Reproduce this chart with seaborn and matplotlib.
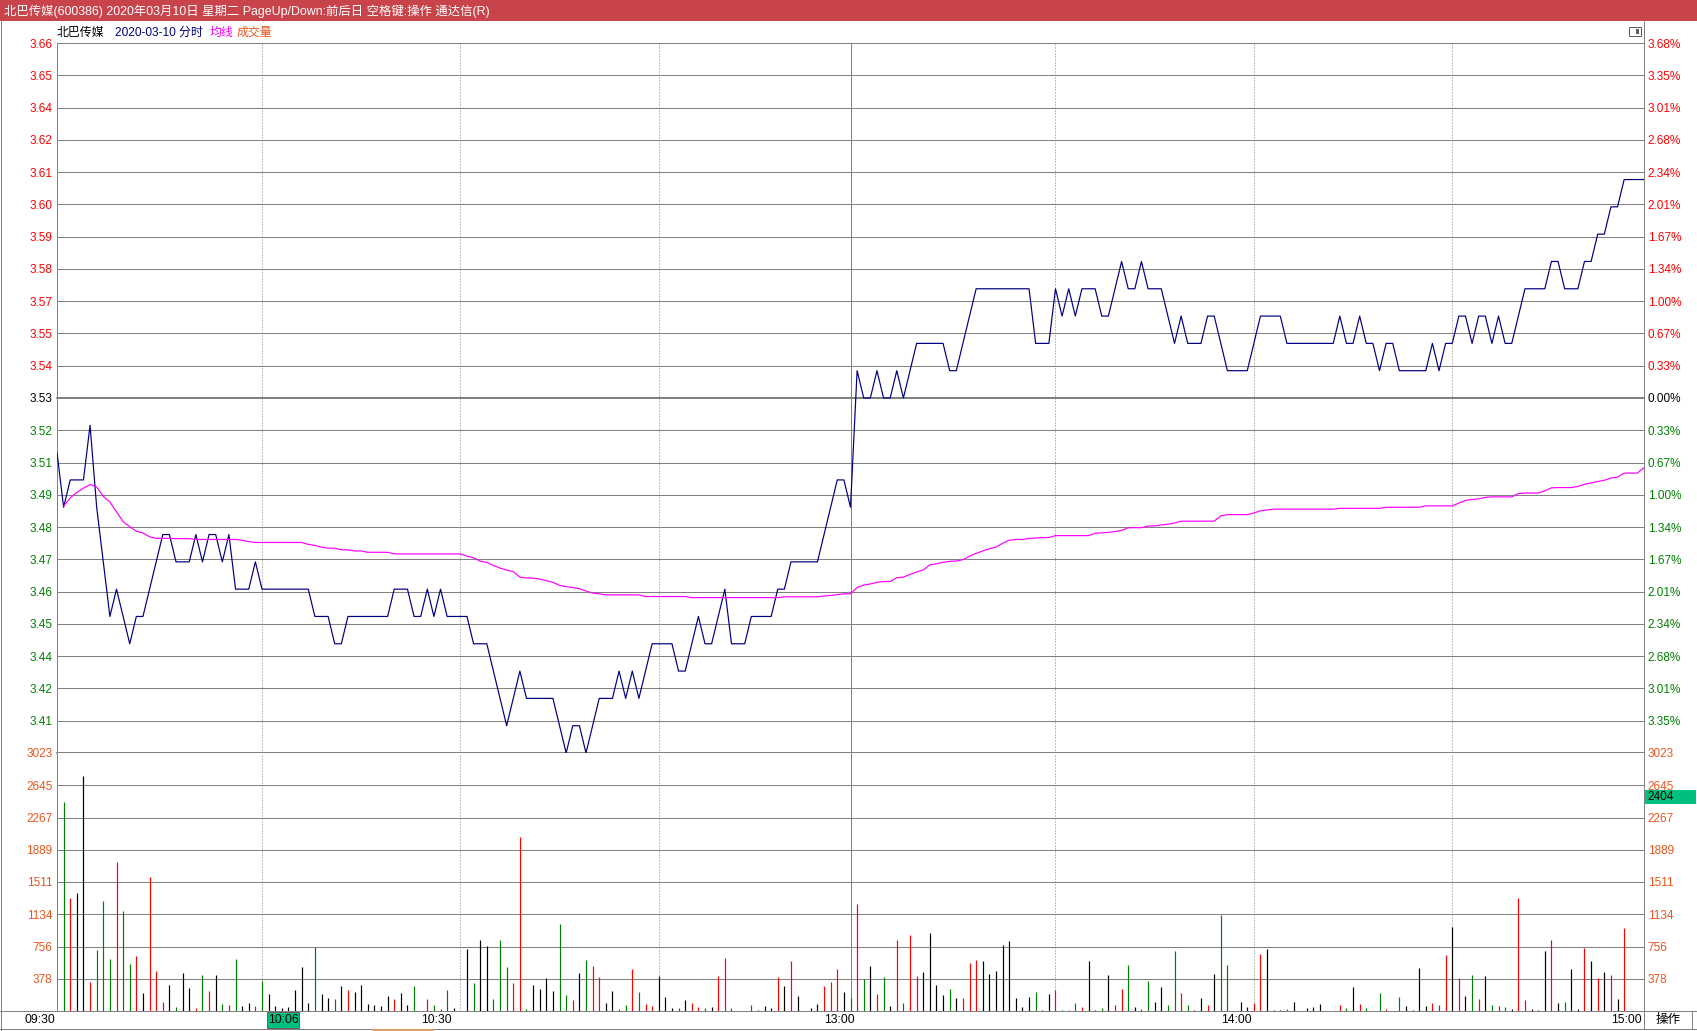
import numpy as np
import pandas as pd
import matplotlib
matplotlib.use("Agg")
import matplotlib.pyplot as plt
from matplotlib.patches import Rectangle
from matplotlib.lines import Line2D
import seaborn as sns

# =====================================================
# DATA  (北巴传媒 intraday, 2020-03-10)
# =====================================================
title_text = "北巴传媒(600386) 2020年03月10日 星期二 PageUp/Down:前后日 空格键:操作 通达信(R)"
stock_name = "北巴传媒"
date_text = "2020-03-10 分时"
prev_close = 3.53
price_span = 0.13          # max distance from prev close shown on the axis
vol_max = 3023

# last price, one per minute, 09:30 .. 15:00 (241 points)
price = [
    3.51, 3.49, 3.50, 3.50, 3.50, 3.52, 3.49, 3.47, 3.45, 3.46,
    3.45, 3.44, 3.45, 3.45, 3.46, 3.47, 3.48, 3.48, 3.47, 3.47,
    3.47, 3.48, 3.47, 3.48, 3.48, 3.47, 3.48, 3.46, 3.46, 3.46,
    3.47, 3.46, 3.46, 3.46, 3.46, 3.46, 3.46, 3.46, 3.46, 3.45,
    3.45, 3.45, 3.44, 3.44, 3.45, 3.45, 3.45, 3.45, 3.45, 3.45,
    3.45, 3.46, 3.46, 3.46, 3.45, 3.45, 3.46, 3.45, 3.46, 3.45,
    3.45, 3.45, 3.45, 3.44, 3.44, 3.44, 3.43, 3.42, 3.41, 3.42,
    3.43, 3.42, 3.42, 3.42, 3.42, 3.42, 3.41, 3.40, 3.41, 3.41,
    3.40, 3.41, 3.42, 3.42, 3.42, 3.43, 3.42, 3.43, 3.42, 3.43,
    3.44, 3.44, 3.44, 3.44, 3.43, 3.43, 3.44, 3.45, 3.44, 3.44,
    3.45, 3.46, 3.44, 3.44, 3.44, 3.45, 3.45, 3.45, 3.45, 3.46,
    3.46, 3.47, 3.47, 3.47, 3.47, 3.47, 3.48, 3.49, 3.50, 3.50,
    3.49, 3.54, 3.53, 3.53, 3.54, 3.53, 3.53, 3.54, 3.53, 3.54,
    3.55, 3.55, 3.55, 3.55, 3.55, 3.54, 3.54, 3.55, 3.56, 3.57,
    3.57, 3.57, 3.57, 3.57, 3.57, 3.57, 3.57, 3.57, 3.55, 3.55,
    3.55, 3.57, 3.56, 3.57, 3.56, 3.57, 3.57, 3.57, 3.56, 3.56,
    3.57, 3.58, 3.57, 3.57, 3.58, 3.57, 3.57, 3.57, 3.56, 3.55,
    3.56, 3.55, 3.55, 3.55, 3.56, 3.56, 3.55, 3.54, 3.54, 3.54,
    3.54, 3.55, 3.56, 3.56, 3.56, 3.56, 3.55, 3.55, 3.55, 3.55,
    3.55, 3.55, 3.55, 3.55, 3.56, 3.55, 3.55, 3.56, 3.55, 3.55,
    3.54, 3.55, 3.55, 3.54, 3.54, 3.54, 3.54, 3.54, 3.55, 3.54,
    3.55, 3.55, 3.56, 3.56, 3.55, 3.56, 3.56, 3.55, 3.56, 3.55,
    3.55, 3.56, 3.57, 3.57, 3.57, 3.57, 3.58, 3.58, 3.57, 3.57,
    3.57, 3.58, 3.58, 3.59, 3.59, 3.60, 3.60, 3.61, 3.61, 3.61,
    3.61,
]

# average price line (均线), 09:31 .. 15:00 (240 points)
avg_price = [
    3.4905, 3.4934, 3.4954, 3.4970, 3.4983, 3.4974, 3.4940, 3.4919, 3.4883, 3.4847,
    3.4829, 3.4812, 3.4806, 3.4792, 3.4786, 3.4786, 3.4786, 3.4785, 3.4785, 3.4785,
    3.4782, 3.4782, 3.4782, 3.4782, 3.4782, 3.4782, 3.4782, 3.4779, 3.4774, 3.4771,
    3.4771, 3.4771, 3.4771, 3.4771, 3.4771, 3.4771, 3.4771, 3.4764, 3.4760, 3.4754,
    3.4750, 3.4750, 3.4744, 3.4744, 3.4740, 3.4740, 3.4735, 3.4735, 3.4735, 3.4735,
    3.4729, 3.4729, 3.4729, 3.4729, 3.4729, 3.4729, 3.4729, 3.4729, 3.4729, 3.4729,
    3.4729, 3.4721, 3.4715, 3.4702, 3.4698, 3.4687, 3.4677, 3.4670, 3.4664, 3.4644,
    3.4641, 3.4640, 3.4637, 3.4631, 3.4625, 3.4614, 3.4609, 3.4606, 3.4602, 3.4593,
    3.4586, 3.4583, 3.4579, 3.4579, 3.4579, 3.4579, 3.4579, 3.4579, 3.4573, 3.4573,
    3.4573, 3.4573, 3.4573, 3.4573, 3.4573, 3.4569, 3.4569, 3.4569, 3.4569, 3.4569,
    3.4569, 3.4569, 3.4569, 3.4569, 3.4569, 3.4569, 3.4569, 3.4569, 3.4569, 3.4572,
    3.4572, 3.4572, 3.4572, 3.4572, 3.4572, 3.4575, 3.4577, 3.4580, 3.4583, 3.4583,
    3.4606, 3.4615, 3.4619, 3.4625, 3.4628, 3.4628, 3.4642, 3.4644, 3.4654, 3.4663,
    3.4670, 3.4689, 3.4693, 3.4698, 3.4702, 3.4703, 3.4708, 3.4721, 3.4731, 3.4740,
    3.4748, 3.4754, 3.4768, 3.4779, 3.4782, 3.4782, 3.4786, 3.4787, 3.4789, 3.4789,
    3.4796, 3.4796, 3.4796, 3.4796, 3.4796, 3.4796, 3.4805, 3.4806, 3.4808, 3.4811,
    3.4815, 3.4825, 3.4825, 3.4825, 3.4831, 3.4832, 3.4835, 3.4838, 3.4842, 3.4849,
    3.4849, 3.4849, 3.4849, 3.4849, 3.4849, 3.4868, 3.4873, 3.4873, 3.4873, 3.4873,
    3.4879, 3.4887, 3.4890, 3.4893, 3.4893, 3.4893, 3.4893, 3.4893, 3.4893, 3.4893,
    3.4893, 3.4893, 3.4893, 3.4896, 3.4896, 3.4896, 3.4896, 3.4896, 3.4896, 3.4896,
    3.4900, 3.4900, 3.4900, 3.4900, 3.4900, 3.4900, 3.4905, 3.4905, 3.4905, 3.4905,
    3.4905, 3.4915, 3.4925, 3.4928, 3.4931, 3.4936, 3.4938, 3.4938, 3.4938, 3.4938,
    3.4950, 3.4952, 3.4952, 3.4952, 3.4960, 3.4971, 3.4972, 3.4972, 3.4972, 3.4976,
    3.4984, 3.4989, 3.4994, 3.4999, 3.5007, 3.5010, 3.5025, 3.5025, 3.5025, 3.5045,
]

# volume per minute, 09:30 .. 15:00 (241 points)
volume = [
    0, 2453, 1324, 1382, 2757, 343, 713, 1285, 607, 1745,
    1168, 549, 643, 210, 1565, 467, 105, 304, 47, 444,
    269, 35, 421, 234, 421, 82, 70, 607, 58, 93,
    58, 350, 199, 58, 35, 47, 245, 514, 93, 748,
    199, 152, 140, 292, 245, 222, 304, 82, 70, 58,
    175, 140, 210, 70, 292, 0, 140, 70, 23, 245,
    35, 0, 724, 327, 829, 759, 140, 829, 514, 327,
    2044, 23, 304, 257, 385, 234, 1016, 187, 128, 444,
    596, 526, 397, 93, 234, 23, 70, 491, 222, 82,
    58, 409, 164, 35, 35, 128, 93, 47, 35, 47,
    409, 619, 35, 0, 0, 70, 12, 58, 35, 397,
    292, 584, 175, 0, 35, 82, 292, 339, 491, 222,
    152, 1250, 374, 526, 199, 397, 58, 829, 93, 888,
    409, 456, 911, 304, 187, 257, 152, 152, 561, 596,
    584, 432, 467, 771, 818, 152, 47, 164, 222, 12,
    199, 245, 12, 12, 93, 47, 584, 12, 35, 421,
    70, 257, 537, 47, 23, 350, 105, 280, 70, 701,
    210, 70, 12, 152, 70, 432, 1121, 537, 0, 105,
    47, 93, 666, 724, 12, 12, 23, 105, 0, 35,
    47, 82, 0, 0, 70, 35, 280, 82, 35, 0,
    210, 23, 0, 164, 58, 12, 502, 58, 93, 70,
    654, 981, 385, 175, 421, 140, 409, 70, 58, 47,
    23, 1320, 128, 23, 12, 701, 829, 93, 105, 491,
    23, 736, 584, 385, 456, 421, 140, 970, 0, 0,
    0,
]

# axis labels, bottom -> top
price_labels = ["3.41", "3.42", "3.44", "3.45", "3.46", "3.47", "3.48", "3.49", "3.51", "3.52",
                "3.53",
                "3.54", "3.55", "3.57", "3.58", "3.59", "3.60", "3.61", "3.62", "3.64", "3.65", "3.66"]
pct_labels = ["3.35%", "3.01%", "2.68%", "2.34%", "2.01%", "1.67%", "1.34%", "1.00%", "0.67%", "0.33%",
              "0.00%",
              "0.33%", "0.67%", "1.00%", "1.34%", "1.67%", "2.01%", "2.34%", "2.68%", "3.01%", "3.35%", "3.68%"]
vol_labels = ["378", "756", "1134", "1511", "1889", "2267", "2645", "3023"]
time_labels = ["09:30", "10:30", "13:00", "14:00", "15:00"]
time_pos = [0, 60, 121, 181, 240]
cursor_time = "10:06"
cursor_vol = "2404"

# =====================================================
# STYLE
# =====================================================
sns.set_style("white")
plt.rcParams["font.family"] = ["Liberation Sans", "Noto Sans CJK SC", "DejaVu Sans"]

RED = "#FF0000"
GREEN = "#008000"
GRID = "#808080"
ORANGE = "#E8561E"
NAVY = "#000080"
MAGENTA = "#FF00FF"
BOX_GREEN = "#00C080"
PX = 0.72  # one pixel in points at dpi=100

W, H = 1697, 1031
fig = plt.figure(figsize=(W / 100, H / 100), dpi=100)
fig.patch.set_facecolor("white")


def fx(x):
    return x / W


def fy(y):
    return 1 - y / H


def fig_line(x0, y0, x1, y1, color=GRID, lw=PX):
    fig.add_artist(Line2D([fx(x0), fx(x1)], [fy(y0), fy(y1)], transform=fig.transFigure,
                          color=color, lw=lw, zorder=5))


# pixel layout of the two panels
L, R = 57, 1644
ax_p = fig.add_axes([fx(L), fy(753), fx(R) - fx(L), fy(43) - fy(753)])
ax_v = fig.add_axes([fx(L), fy(1011), fx(R) - fx(L), fy(753) - fy(1011)], sharex=ax_p)

df = pd.DataFrame({"minute": np.arange(len(price)), "price": price, "volume": volume})
df_avg = pd.DataFrame({"minute": np.arange(1, len(avg_price) + 1), "avg": avg_price})

lo, hi = prev_close - price_span, prev_close + price_span
grid_vals = np.linspace(lo, hi, 23)
vol_step = vol_max / 8
vol_ticks = [vol_step * k for k in range(1, 9)]

for ax in (ax_p, ax_v):
    ax.set_xlim(0, 240)
    for s in ax.spines.values():
        s.set_visible(False)
    ax.set_facecolor("white")
    ax.tick_params(axis="x", bottom=False, labelbottom=False)
    for m in [31, 61, 91, 151, 181, 211]:
        ax.axvline(m, color=GRID, lw=PX, ls=(0, (1, 2)), zorder=1)
    ax.axvline(120, color=GRID, lw=PX, zorder=1)
    ax.axvline(0, color=GRID, lw=PX, zorder=1, clip_on=False)

# ---------------- price panel ----------------
ax_p.set_ylim(lo, hi)
for k, v in enumerate(grid_vals):
    if k == 0:
        continue
    ax_p.axhline(v, color=GRID, lw=2 * PX if k == 11 else PX, zorder=1, clip_on=False)
ax_p.axhline(lo, color=GRID, lw=2 * PX, zorder=1, clip_on=False)

sns.lineplot(data=df, x="minute", y="price", ax=ax_p, color=NAVY, lw=PX * 1.2,
             estimator=None, zorder=3)
sns.lineplot(data=df_avg, x="minute", y="avg", ax=ax_p, color=MAGENTA, lw=PX * 1.2,
             estimator=None, zorder=3)
ax_p.set_xlabel("")
ax_p.set_ylabel("")

label_colors = [GREEN] * 10 + ["black"] + [RED] * 11
ax_p.set_yticks(grid_vals[1:])
ax_p.set_yticklabels(price_labels)
ax_p.tick_params(axis="y", left=False, length=0, pad=3.2, labelsize=8.5)
for t, c in zip(ax_p.get_yticklabels(), label_colors):
    t.set_color(c)

ax_pr = ax_p.twinx()
ax_pr.set_ylim(lo, hi)
for s in ax_pr.spines.values():
    s.set_visible(False)
ax_pr.set_yticks(grid_vals[1:])
ax_pr.set_yticklabels(pct_labels)
ax_pr.tick_params(axis="y", right=False, length=0, pad=2.7, labelsize=8.5)
for t, c in zip(ax_pr.get_yticklabels(), label_colors):
    t.set_color(c)

# ---------------- volume panel ----------------
ax_v.set_ylim(0, vol_max)
for v in vol_ticks[:-1]:
    ax_v.axhline(v, color=GRID, lw=PX, zorder=1)

diff = np.diff(np.array(price), prepend=price[0])
bar_colors = np.where(diff > 0.0001, RED, np.where(diff < -0.0001, GREEN, "black"))
has_vol = df["volume"] > 0
ax_v.vlines(df["minute"][has_vol], 0, df["volume"][has_vol], colors=bar_colors[has_vol],
            lw=PX * 1.2, zorder=3)

ax_v.set_yticks(vol_ticks)
ax_v.set_yticklabels(vol_labels)
ax_v.tick_params(axis="y", left=False, length=0, pad=3.2, labelsize=8.5, labelcolor=ORANGE)
ax_v.set_ylabel("")

ax_vr = ax_v.twinx()
ax_vr.set_ylim(0, vol_max)
for s in ax_vr.spines.values():
    s.set_visible(False)
ax_vr.set_yticks(vol_ticks)
ax_vr.set_yticklabels(vol_labels)
ax_vr.tick_params(axis="y", right=False, length=0, pad=2.7, labelsize=8.5, labelcolor=ORANGE)

# time labels under the volume panel
for lab, pos in zip(time_labels, time_pos):
    ax_v.text(pos - 0.3, -9 / 258, lab, transform=ax_v.get_xaxis_transform(),
              ha="right", va="center", fontsize=8.7, color="black")

# =====================================================
# WINDOW FRAME, TITLE BAR, HEADER
# =====================================================
fig.add_artist(Rectangle((0, fy(21)), 1, 21 / H, transform=fig.transFigure,
                         facecolor="#C9434B", edgecolor="none", zorder=4))
fig.text(fx(4), fy(11), title_text, color="white", fontsize=8.9, va="center", ha="left", zorder=6)

fig_line(0.5, 21, 0.5, 1031)
fig_line(1696.5, 21, 1696.5, 1031)
fig_line(R, 21, R, 1029)
fig_line(0, 1011, W, 1011)
fig_line(0, 1029, W, 1029)
fig_line(1692, 1011, 1692, 1029)
fig_line(373, 1030, 433, 1030, color="#E0A060", lw=2 * PX)

fig.text(fx(57), fy(33), stock_name, color="black", fontsize=8.6, va="center")
fig.text(fx(115), fy(33), date_text, color=NAVY, fontsize=8.6, va="center")
fig.text(fx(210), fy(33), "均线", color=MAGENTA, fontsize=8.6, va="center")
fig.text(fx(237), fy(33), "成交量", color=ORANGE, fontsize=8.6, va="center")

# small panel icon, top right
fig.add_artist(Rectangle((fx(1629), fy(36)), 12 / W, 9 / H, transform=fig.transFigure,
                         facecolor="white", edgecolor="#606060", lw=PX, zorder=6))
fig.add_artist(Rectangle((fx(1636), fy(34)), 3 / W, 5 / H, transform=fig.transFigure,
                         facecolor="#606060", edgecolor="none", zorder=6))

# cursor readouts
fig.add_artist(Rectangle((fx(267), fy(1028)), 32 / W, 16 / H, transform=fig.transFigure,
                         facecolor=BOX_GREEN, edgecolor="#606060", lw=PX, zorder=6))
fig.text(fx(283), fy(1020), cursor_time, color="black", fontsize=8.7, ha="center", va="center", zorder=7)
fig.add_artist(Rectangle((fx(1645), fy(804)), 51 / W, 14 / H, transform=fig.transFigure,
                         facecolor=BOX_GREEN, edgecolor="none", zorder=6))
fig.text(fx(1647), fy(797), cursor_vol, color="black", fontsize=8.5, ha="left", va="center", zorder=7)

fig.text(fx(1668), fy(1020), "操作", color="black", fontsize=9, ha="center", va="center")

fig.savefig("out.png", dpi=100, facecolor="white")
